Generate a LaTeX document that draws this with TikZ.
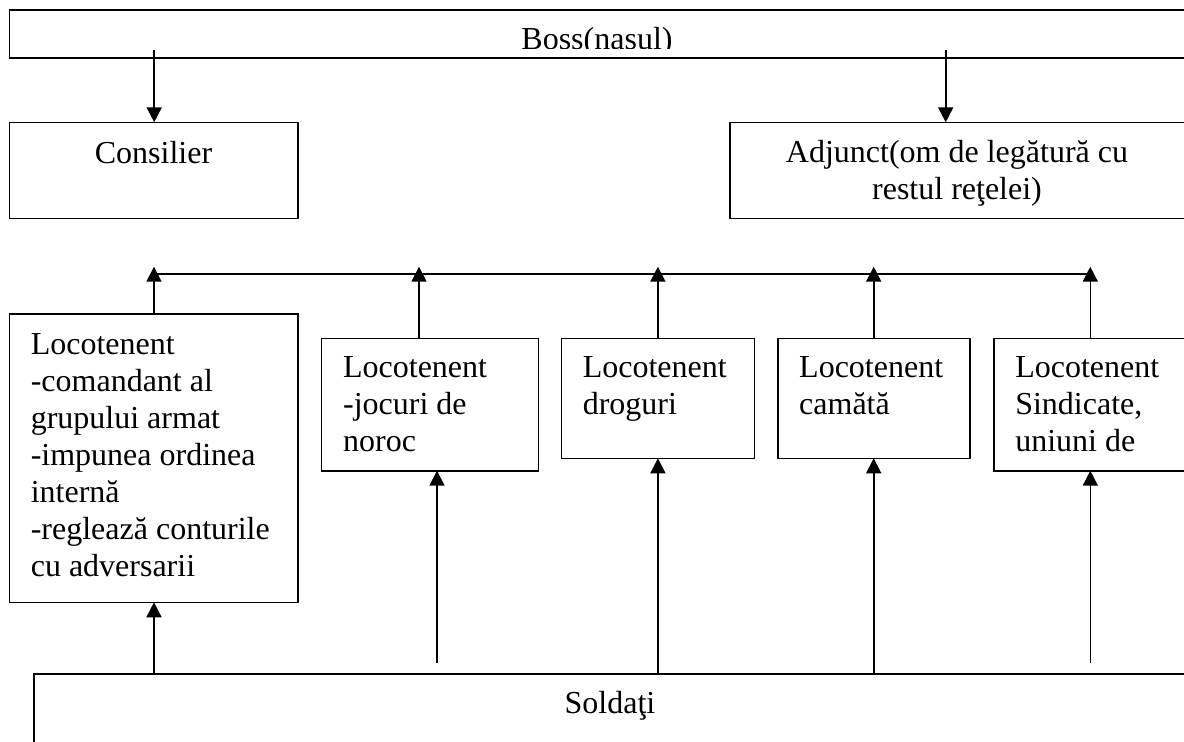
\documentclass[tikz,border=0pt]{standalone}
\usepackage{fontspec}
\setmainfont{Liberation Serif}
\usetikzlibrary{arrows.meta,calc}
\newcommand{\stk}[2][l]{\begin{tabular}[t]{@{}#1@{}}#2\end{tabular}}
\begin{document}
\begin{tikzpicture}[x=1pt,y=-1pt,line width=1.6pt,
  box/.style={draw,rectangle,anchor=north west,inner sep=0pt,outer sep=0pt,line width=1.6pt},
  txt/.style={font=\fontsize{32}{37}\selectfont,inner sep=0pt,anchor=base west},
  arr/.style={-{Triangle[width=15pt,length=15pt]}}]
\useasboundingbox (0,0) rectangle (1184,742);
\clip (0,0) rectangle (1184,742);
% boxes
\node[box,minimum width=1180.4pt,minimum height=47.7pt] (boss) at (9.6,10) {};
\node[box,minimum width=288.1pt,minimum height=96pt] (consil) at (9.6,122.3) {};
\node[box,minimum width=460pt,minimum height=96pt] (adj) at (729.8,122.3) {};
\node[box,minimum width=288.1pt,minimum height=288.3pt] (lt1) at (9.6,314) {};
\node[box,minimum width=217pt,minimum height=132.4pt] (lt2) at (321.5,338.3) {};
\node[box,minimum width=192.9pt,minimum height=120pt] (lt3) at (561.4,338.3) {};
\node[box,minimum width=191.8pt,minimum height=120pt] (lt4) at (778,338.3) {};
\node[box,minimum width=200pt,minimum height=132.4pt] (lt5) at (993.9,338.3) {};
\node[box,minimum width=1160pt,minimum height=100pt] (sold) at (34,674) {};
% texts
\begin{scope}
\clip (0,0) rectangle (1184,48.3);
\node[txt,anchor=base] (bosst) at (597,49.5) {Boss(nasul)};
\end{scope}
\node[txt,anchor=base] (consilt) at (153.5,163.3) {Consilier};
\node[txt,anchor=base] (adjt) at (957,162.7) {\stk[c]{Adjunct(om de legătură cu\\restul reţelei)}};
\node[txt] (lt1t) at ($(lt1.north west)+(20.4,40)$) {\stk{Locotenent\\-comandant al\\grupului armat\\-impunea ordinea\\internă\\-reglează conturile\\cu adversarii}};
\node[txt] (lt2t) at ($(lt2.north west)+(20.8,39.4)$) {\stk{Locotenent\\-jocuri de\\noroc}};
\node[txt] (lt3t) at ($(lt3.north west)+(20.6,39.4)$) {\stk{Locotenent\\droguri}};
\node[txt] (lt4t) at ($(lt4.north west)+(20.4,39.4)$) {\stk{Locotenent\\camătă}};
\node[txt] (lt5t) at ($(lt5.north west)+(20.6,39.4)$) {\stk{Locotenent\\Sindicate,\\uniuni de}};
\node[txt,anchor=base] (soldt) at (610,713.3) {Soldaţi};
% arrows from boss
\coordinate (b1) at (154.2,50);
\coordinate (b2) at (945.7,50);
\draw[arr] (b1) -- (b1 |- consil.north);
\draw[arr] (b2) -- (b2 |- adj.north);
% bus
\coordinate (u1) at (154,266.7);
\coordinate (u2) at (419,266.7);
\coordinate (u3) at (657.9,266.7);
\coordinate (u4) at (873.7,266.7);
\coordinate (u5) at (1090.3,266.7);
\coordinate (h1) at (154,274);
\coordinate (h5) at (1090.3,274);
\draw (h1) -- (h5);
\draw[arr] (u1 |- lt1.north) -- (u1);
\draw[arr] (u2 |- lt2.north) -- (u2);
\draw[arr] (u3 |- lt3.north) -- (u3);
\draw[arr] (u4 |- lt4.north) -- (u4);
\draw[arr] (u5 |- lt5.north) -- (u5);
% arrows from soldati
\coordinate (d1) at (154,674);
\coordinate (d2) at (437,663.3);
\coordinate (d3) at (657.9,674);
\coordinate (d4) at (873.7,674);
\coordinate (d5) at (1090.3,663.3);
\draw[arr] (d1 |- sold.north) -- (d1 |- lt1.south);
\draw[arr] (d2) -- (d2 |- lt2.south);
\draw[arr] (d3 |- sold.north) -- (d3 |- lt3.south);
\draw[arr] (d4 |- sold.north) -- (d4 |- lt4.south);
\draw[arr] (d5) -- (d5 |- lt5.south);
\end{tikzpicture}
\end{document}
